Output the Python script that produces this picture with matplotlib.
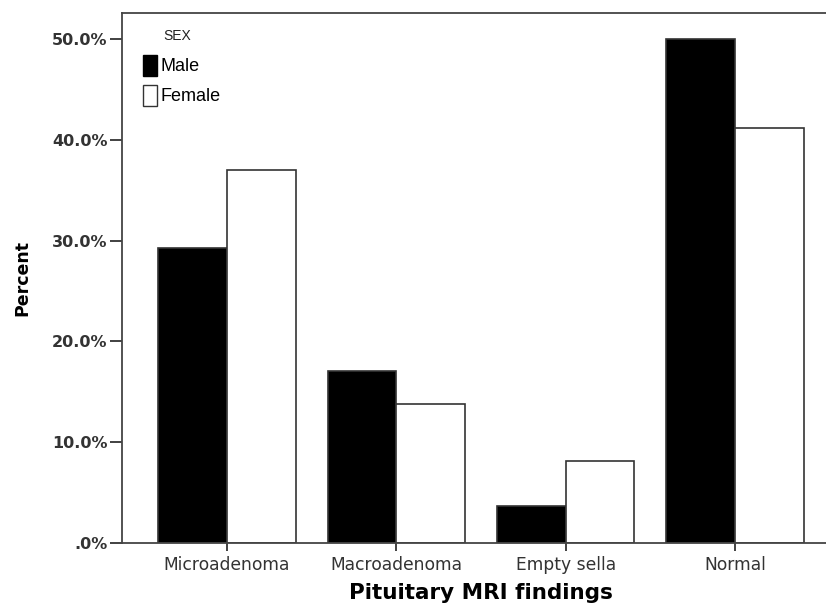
import numpy as np
import matplotlib
matplotlib.use("Agg")
import matplotlib.pyplot as plt
from matplotlib.patches import Patch

categories = ["Microadenoma", "Macroadenoma", "Empty sella", "Normal"]
male = [29.3, 17.1, 3.7, 50.0]
female = [37.0, 13.8, 8.1, 41.2]
yticks = [0, 10, 20, 30, 40, 50]
ytick_labels = [".0%", "10.0%", "20.0%", "30.0%", "40.0%", "50.0%"]

W, H = 826, 603
fig = plt.figure(figsize=(W / 100, H / 100), dpi=100)
# axes: left 122px, top 13px, bottom 543px, right runs off the image
ax = fig.add_axes([122 / W, (H - 543) / H, (840 - 122) / W, (543 - 13) / H])

x = np.arange(len(categories))
bw = 0.405
ax.bar(x - bw / 2, male, bw, color="black", edgecolor="#333333", linewidth=1.2)
ax.bar(x + bw / 2, female, bw, color="white", edgecolor="#333333", linewidth=1.2)

ax.set_xlim(-0.62, 3.62)
ax.set_ylim(0, 52.6)
ax.set_yticks(yticks)
ax.set_yticklabels(ytick_labels, fontsize=11.5, fontweight="bold", color="#333333")
ax.set_xticks(x)
ax.set_xticklabels(categories, fontsize=12.3, color="#333333")
ax.tick_params(axis="y", direction="out", length=9, width=1.3, color="#333333", pad=1.5)
ax.tick_params(axis="x", direction="out", length=6, width=1.3, color="#333333", pad=3)
for s in ax.spines.values():
    s.set_linewidth(1.3)
    s.set_color("#444444")

fig.text(22 / W, 1 - 278 / H, "Percent", fontsize=12.5, fontweight="bold",
         rotation=90, ha="center", va="center")
fig.text(481 / W, 1 - 593 / H, "Pituitary MRI findings", fontsize=15.5,
         fontweight="bold", ha="center", va="center")

# legend (SPSS style)
fig.text(163 / W, 1 - 36 / H, "SEX", fontsize=10, family="Liberation Sans",
         ha="left", va="center", color="#222222")
handles = [Patch(facecolor="black", edgecolor="black", label="Male"),
           Patch(facecolor="white", edgecolor="#333333", label="Female")]
ax.legend(handles=handles, loc="upper left", bbox_to_anchor=(143 / W, 1 - 55 / H),
          bbox_transform=fig.transFigure, frameon=False, borderpad=0,
          borderaxespad=0, prop={"family": "Liberation Sans", "size": 13},
          handlelength=0.8, handleheight=1.4, handletextpad=0.15,
          labelspacing=0.5)

fig.savefig("out.png", dpi=100)
